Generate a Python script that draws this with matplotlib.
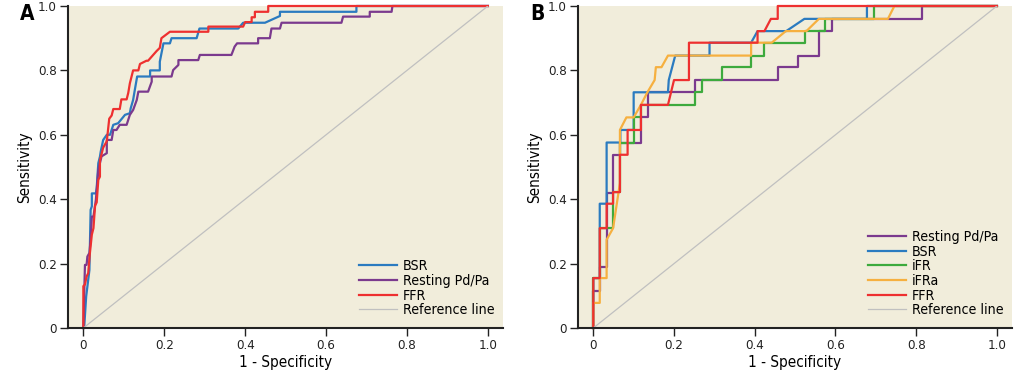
import matplotlib
matplotlib.use('Agg')
from matplotlib import pyplot as plt

# panel A: ROC curves (1 - specificity, sensitivity)
a_bsr_x = [0, 0.002, 0.007, 0.015, 0.018, 0.021, 0.021, 0.031, 0.033, 0.037, 0.041, 0.043, 0.049, 0.058, 0.066, 0.074,
           0.086, 0.103, 0.115, 0.117, 0.123, 0.128, 0.133, 0.165, 0.165, 0.189, 0.189, 0.198, 0.214, 0.218, 0.28,
           0.287, 0.383, 0.395, 0.449, 0.486, 0.486, 0.675, 0.675, 1.0]
a_bsr_y = [0, 0, 0.098, 0.18, 0.367, 0.378, 0.418, 0.418, 0.435, 0.512, 0.532, 0.548, 0.584, 0.6, 0.6, 0.631,
           0.636, 0.662, 0.667, 0.682, 0.708, 0.745, 0.781, 0.781, 0.8, 0.8, 0.827, 0.884, 0.884, 0.9, 0.9,
           0.93, 0.93, 0.948, 0.948, 0.969, 0.982, 0.982, 1.0, 1.0]

a_pdpa_x = [0, 0.002, 0.004, 0.008, 0.01, 0.015, 0.018, 0.021, 0.025, 0.031, 0.037, 0.045, 0.058, 0.058, 0.07, 0.074,
            0.082, 0.09, 0.107, 0.115, 0.123, 0.132, 0.136, 0.16, 0.169, 0.169, 0.218, 0.222, 0.235, 0.235, 0.284,
            0.288, 0.366, 0.374, 0.38, 0.432, 0.432, 0.461, 0.465, 0.486, 0.49, 0.638, 0.642, 0.708, 0.708,
            0.762, 0.764, 1.0]
a_pdpa_y = [0, 0.1, 0.196, 0.196, 0.222, 0.233, 0.274, 0.346, 0.346, 0.398, 0.491, 0.533, 0.543, 0.584, 0.584, 0.615,
            0.615, 0.631, 0.631, 0.662, 0.677, 0.708, 0.734, 0.734, 0.765, 0.781, 0.781, 0.801, 0.817, 0.832, 0.832,
            0.848, 0.848, 0.874, 0.884, 0.884, 0.9, 0.9, 0.93, 0.93, 0.948, 0.948, 0.967, 0.967, 0.982,
            0.982, 1.0, 1.0]

a_ffr_x = [0, 0, 0.004, 0.008, 0.012, 0.016, 0.021, 0.025, 0.029, 0.033, 0.037, 0.041, 0.041, 0.049, 0.058, 0.064,
           0.07, 0.074, 0.09, 0.094, 0.107, 0.111, 0.115, 0.123, 0.136, 0.14, 0.156, 0.16, 0.181, 0.189, 0.193,
           0.214, 0.309, 0.309, 0.395, 0.40, 0.416, 0.416, 0.424, 0.424, 0.457, 0.457, 1.0]
a_ffr_y = [0, 0.13, 0.135, 0.16, 0.17, 0.23, 0.29, 0.31, 0.38, 0.39, 0.46, 0.47, 0.52, 0.56, 0.58, 0.65,
           0.66, 0.68, 0.68, 0.71, 0.71, 0.73, 0.76, 0.80, 0.80, 0.82, 0.83, 0.83, 0.86, 0.87, 0.90,
           0.92, 0.92, 0.936, 0.936, 0.95, 0.95, 0.965, 0.965, 0.982, 0.982, 1.0, 1.0]

# panel B
b_pdpa_x = [0, 0, 0.016, 0.016, 0.033, 0.033, 0.049, 0.049, 0.067, 0.067, 0.118, 0.118, 0.136, 0.136, 0.253, 0.253,
            0.457, 0.457, 0.507, 0.507, 0.558, 0.558, 0.592, 0.592, 0.815, 0.815, 1.0]
b_pdpa_y = [0, 0.114, 0.114, 0.19, 0.19, 0.42, 0.42, 0.538, 0.538, 0.576, 0.576, 0.654, 0.654, 0.732, 0.732, 0.77,
            0.77, 0.81, 0.81, 0.846, 0.846, 0.922, 0.922, 0.96, 0.96, 1.0, 1.0]

b_bsr_x = [0, 0, 0.016, 0.016, 0.033, 0.033, 0.067, 0.067, 0.1, 0.1, 0.185, 0.187, 0.203, 0.288, 0.288, 0.391,
           0.407, 0.478, 0.523, 0.678, 0.678, 1.0]
b_bsr_y = [0, 0.155, 0.155, 0.386, 0.386, 0.576, 0.576, 0.615, 0.615, 0.732, 0.732, 0.77, 0.846, 0.846, 0.886, 0.886,
           0.922, 0.922, 0.96, 0.96, 1.0, 1.0]

b_ifr_x = [0, 0, 0.016, 0.016, 0.049, 0.049, 0.066, 0.066, 0.1, 0.1, 0.118, 0.118, 0.253, 0.253, 0.27, 0.27,
           0.319, 0.319, 0.391, 0.391, 0.422, 0.422, 0.525, 0.525, 0.575, 0.575, 0.695, 0.695, 1.0]
b_ifr_y = [0, 0.155, 0.155, 0.31, 0.31, 0.422, 0.422, 0.576, 0.576, 0.654, 0.654, 0.693, 0.693, 0.732, 0.732, 0.77,
           0.77, 0.81, 0.81, 0.846, 0.846, 0.886, 0.886, 0.922, 0.922, 0.96, 0.96, 1.0, 1.0]

b_ifra_x = [0, 0, 0.016, 0.016, 0.033, 0.033, 0.049, 0.066, 0.066, 0.068, 0.082, 0.1, 0.118, 0.134, 0.152, 0.155,
            0.169, 0.185, 0.391, 0.391, 0.442, 0.477, 0.528, 0.559, 0.73, 0.746, 1.0]
b_ifra_y = [0, 0.078, 0.078, 0.155, 0.155, 0.274, 0.31, 0.45, 0.615, 0.62, 0.654, 0.654, 0.693, 0.732, 0.77, 0.81,
            0.81, 0.846, 0.846, 0.886, 0.886, 0.922, 0.922, 0.96, 0.96, 1.0, 1.0]

b_ffr_x = [0, 0, 0.016, 0.016, 0.033, 0.033, 0.049, 0.049, 0.066, 0.066, 0.085, 0.085, 0.118, 0.118, 0.185, 0.2,
           0.237, 0.237, 0.407, 0.407, 0.424, 0.44, 0.457, 0.457, 1.0]
b_ffr_y = [0, 0.155, 0.155, 0.31, 0.31, 0.386, 0.386, 0.422, 0.422, 0.538, 0.538, 0.615, 0.615, 0.693, 0.693, 0.77,
           0.77, 0.886, 0.886, 0.922, 0.922, 0.96, 0.96, 1.0, 1.0]

ticks = [0, 0.2, 0.4, 0.6, 0.8, 1.0]
tick_labels = ['0', '0.2', '0.4', '0.6', '0.8', '1.0']

plt.rcParams['font.family'] = ['DejaVu Sans']
plt.rcParams['font.stretch'] = 'condensed'

c_bsr = '#2B7BC0'
c_pdpa = '#7B3A8E'
c_ffr = '#EE3030'
c_ifr = '#3DAA3D'
c_ifra = '#F6B040'
c_ref = '#C0C0C0'
bg = '#F1EDDB'
lw = 1.6

fig = plt.figure(figsize=(10.33, 3.70), dpi=100)
axA = fig.add_axes([0.0658, 0.1135, 0.421, 0.8703])
axB = fig.add_axes([0.5595, 0.1135, 0.420, 0.8703])

def style(ax):
    ax.set_facecolor(bg)
    ax.set_xlim(-0.038, 1.037)
    ax.set_ylim(0, 1)
    for s in ['top', 'right']:
        ax.spines[s].set_visible(False)
    for s in ['left', 'bottom']:
        ax.spines[s].set_color('#222222')
        ax.spines[s].set_linewidth(1.5)
    ax.set_xticks(ticks)
    ax.set_xticklabels(tick_labels)
    ax.set_yticks(ticks)
    ax.set_yticklabels(tick_labels)
    ax.tick_params(direction='out', length=6, width=1, colors='#222222', labelsize=9.5, pad=2)
    ax.set_xlabel('1 - Specificity', fontsize=11, labelpad=2)
    ax.set_ylabel('Sensitivity', fontsize=11, labelpad=4)

def add_legend(ax):
    ax.legend(loc='lower right', bbox_to_anchor=(1.005, 0.0), frameon=False, fontsize=10.2, handlelength=2.7,
              handletextpad=0.4, labelspacing=0.05, borderaxespad=0.35)

style(axA)
axA.plot(a_bsr_x, a_bsr_y, color=c_bsr, lw=lw, label='BSR', clip_on=False)
axA.plot(a_pdpa_x, a_pdpa_y, color=c_pdpa, lw=lw, label='Resting Pd/Pa', clip_on=False)
axA.plot(a_ffr_x, a_ffr_y, color=c_ffr, lw=lw, label='FFR', clip_on=False)
axA.plot([0, 1], [0, 1], color=c_ref, lw=0.9, label='Reference line')
add_legend(axA)

style(axB)
axB.plot(b_pdpa_x, b_pdpa_y, color=c_pdpa, lw=lw, label='Resting Pd/Pa', clip_on=False)
axB.plot(b_bsr_x, b_bsr_y, color=c_bsr, lw=lw, label='BSR', clip_on=False)
axB.plot(b_ifr_x, b_ifr_y, color=c_ifr, lw=lw, label='iFR', clip_on=False)
axB.plot(b_ifra_x, b_ifra_y, color=c_ifra, lw=lw, label='iFRa', clip_on=False)
axB.plot(b_ffr_x, b_ffr_y, color=c_ffr, lw=lw, label='FFR', clip_on=False)
axB.plot([0, 1], [0, 1], color=c_ref, lw=0.9, label='Reference line')
add_legend(axB)

fig.text(0.019, 0.962, 'A', fontsize=15, fontweight='bold', va='center', ha='left')
fig.text(0.513, 0.962, 'B', fontsize=15, fontweight='bold', va='center', ha='left')

plt.savefig('out.png', dpi=100)
